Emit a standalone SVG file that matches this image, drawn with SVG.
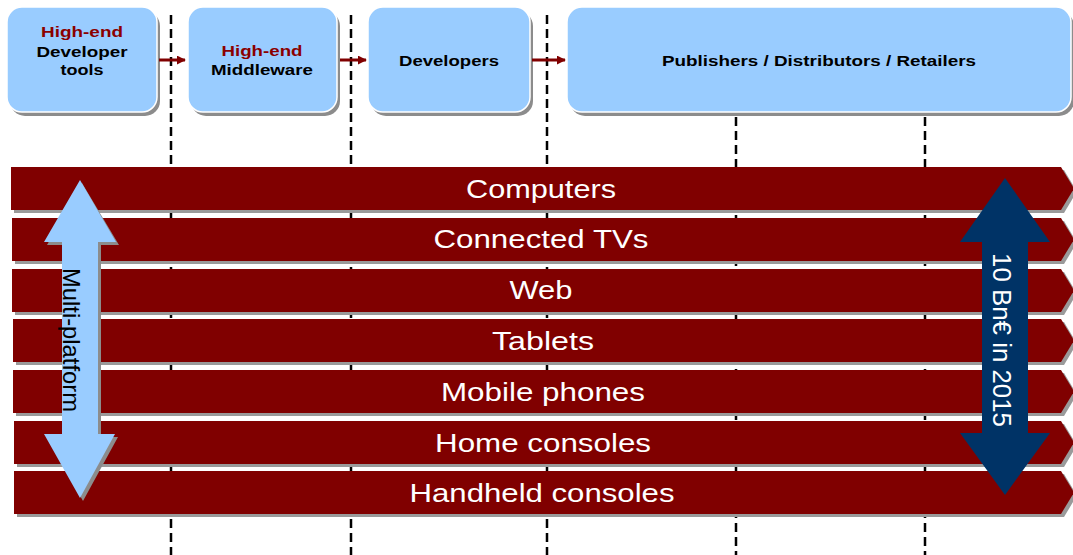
<svg xmlns="http://www.w3.org/2000/svg" width="1073" height="555" viewBox="0 0 1073 555">
<defs>
<style>
.box{fill:#99CCFF;stroke:#ffffff;stroke-width:1.5}
.boxsh{fill:#8c8c8c}
.bt{font-family:"Liberation Sans",Arial,sans-serif;font-weight:bold;font-size:15.5px;text-anchor:middle;fill:#000}
.red{fill:#8B0000}
.bar{fill:#800000}
.barsh{fill:#9a9a9a}
.lt{font-family:"Liberation Sans",Arial,sans-serif;font-size:25px;text-anchor:middle;fill:#fff}
.dash{stroke:#000;stroke-width:2.5;stroke-dasharray:9 5;fill:none}
.conn{stroke:#800000;stroke-width:3;fill:none}
</style>
<marker id="ah" viewBox="0 0 10 10" refX="9" refY="5" markerWidth="3" markerHeight="3" orient="auto" markerUnits="strokeWidth">
<path d="M0,0 L10,5 L0,10 Z" fill="#800000"/>
</marker>
</defs>
<rect width="1073" height="555" fill="#fff"/>

<g id="separators">
<line class="dash" x1="171" y1="15" x2="171" y2="555"/>
<line class="dash" x1="351" y1="15" x2="351" y2="555"/>
<line class="dash" x1="547" y1="15" x2="547" y2="555"/>
<line class="dash" x1="736" y1="117" x2="736" y2="555"/>
<line class="dash" x1="925" y1="117" x2="925" y2="555"/>
</g>

<g id="node-tools">
<rect class="boxsh" x="10" y="11" width="150" height="105" rx="15"/>
<rect class="box" x="7" y="7" width="150" height="105" rx="15"/>
<text class="bt red" x="82" y="37" textLength="82" lengthAdjust="spacingAndGlyphs">High-end</text>
<text class="bt" x="82" y="57" textLength="91" lengthAdjust="spacingAndGlyphs">Developer</text>
<text class="bt" x="82" y="75" textLength="43" lengthAdjust="spacingAndGlyphs">tools</text>
</g>

<g id="node-middleware">
<rect class="boxsh" x="191" y="11" width="149" height="105" rx="15"/>
<rect class="box" x="188" y="7" width="149" height="105" rx="15"/>
<text class="bt red" x="262" y="56" textLength="81" lengthAdjust="spacingAndGlyphs">High-end</text>
<text class="bt" x="262" y="75" textLength="102" lengthAdjust="spacingAndGlyphs">Middleware</text>
</g>

<g id="node-developers">
<rect class="boxsh" x="371" y="11" width="162" height="105" rx="15"/>
<rect class="box" x="368" y="7" width="162" height="105" rx="15"/>
<text class="bt" x="449" y="66" textLength="100" lengthAdjust="spacingAndGlyphs">Developers</text>
</g>

<g id="node-publishers">
<rect class="boxsh" x="570" y="11" width="504" height="105" rx="15"/>
<rect class="box" x="567" y="7" width="504" height="105" rx="15"/>
<text class="bt" x="819" y="66" textLength="314" lengthAdjust="spacingAndGlyphs">Publishers / Distributors / Retailers</text>
</g>

<g id="connectors">
<line class="conn" x1="159" y1="60" x2="185" y2="60" marker-end="url(#ah)"/>
<line class="conn" x1="340" y1="60" x2="366" y2="60" marker-end="url(#ah)"/>
<line class="conn" x1="532" y1="60" x2="565" y2="60" marker-end="url(#ah)"/>
</g>

<g id="bar-computers">
<path class="barsh" d="M14,170 H1064 L1077,191.5 L1064,213 H14 Z"/>
<path class="bar" d="M11,167 H1061 L1074,188.5 L1061,210 H11 Z"/>
<text class="lt" x="541" y="198" textLength="150" lengthAdjust="spacingAndGlyphs">Computers</text>
</g>
<g id="bar-tvs">
<path class="barsh" d="M15,221 H1064 L1077,242.5 L1064,264 H15 Z"/>
<path class="bar" d="M12,218 H1061 L1074,239.5 L1061,261 H12 Z"/>
<text class="lt" x="541" y="248" textLength="215" lengthAdjust="spacingAndGlyphs">Connected TVs</text>
</g>
<g id="bar-web">
<path class="barsh" d="M15,272 H1064 L1077,293.5 L1064,315 H15 Z"/>
<path class="bar" d="M12,269 H1061 L1074,290.5 L1061,312 H12 Z"/>
<text class="lt" x="541" y="299" textLength="63" lengthAdjust="spacingAndGlyphs">Web</text>
</g>
<g id="bar-tablets">
<path class="barsh" d="M16,322 H1064 L1077,343.5 L1064,365 H16 Z"/>
<path class="bar" d="M13,319 H1061 L1074,340.5 L1061,362 H13 Z"/>
<text class="lt" x="543" y="350" textLength="102" lengthAdjust="spacingAndGlyphs">Tablets</text>
</g>
<g id="bar-mobile">
<path class="barsh" d="M16,373 H1064 L1077,394.5 L1064,416 H16 Z"/>
<path class="bar" d="M13,370 H1061 L1074,391.5 L1061,413 H13 Z"/>
<text class="lt" x="543" y="401" textLength="204" lengthAdjust="spacingAndGlyphs">Mobile phones</text>
</g>
<g id="bar-home">
<path class="barsh" d="M17,424 H1064 L1077,445.5 L1064,467 H17 Z"/>
<path class="bar" d="M14,421 H1061 L1074,442.5 L1061,464 H14 Z"/>
<text class="lt" x="543" y="452" textLength="216" lengthAdjust="spacingAndGlyphs">Home consoles</text>
</g>
<g id="bar-handheld">
<path class="barsh" d="M17,474 H1064 L1077,495.5 L1064,517 H17 Z"/>
<path class="bar" d="M14,471 H1061 L1074,492.5 L1061,514 H14 Z"/>
<text class="lt" x="542" y="502" textLength="265" lengthAdjust="spacingAndGlyphs">Handheld consoles</text>
</g>

<g id="arrow-multiplatform">
<path d="M82,183 L119,245 L101,245 L101,437 L118,437 L83,501 L47,437 L65,437 L65,245 L47,245 Z" fill="#8c8c8c"/>
<path d="M80,180 L116,242 L98,242 L98,434 L115,434 L80,498 L44,434 L62,434 L62,242 L44,242 Z" fill="#99CCFF"/>
<text x="0" y="0" transform="translate(63,340) rotate(90)" font-family="'Liberation Sans',Arial,sans-serif" font-size="24" text-anchor="middle" fill="#000" textLength="144" lengthAdjust="spacingAndGlyphs">Multi-platform</text>
</g>

<g id="arrow-market">
<path d="M1005,178 L1050,242 L1028,242 L1028,433 L1050,433 L1005,495 L960,433 L982,433 L982,242 L960,242 Z" fill="#003366"/>
<text x="0" y="0" transform="translate(993,340) rotate(90)" font-family="'Liberation Sans',Arial,sans-serif" font-size="26" text-anchor="middle" fill="#fff" textLength="174" lengthAdjust="spacingAndGlyphs">10 Bn€ in 2015</text>
</g>
</svg>
